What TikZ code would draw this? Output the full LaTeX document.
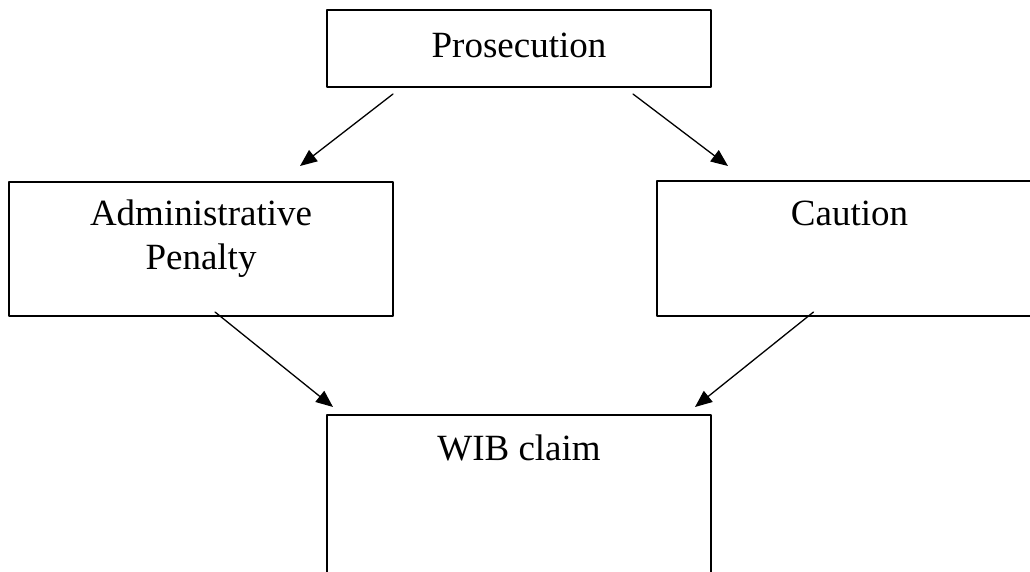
\documentclass[tikz,border=0pt]{standalone}
\usepackage{fontspec}
\setmainfont{Liberation Serif}
\usepackage{tikz}
\usetikzlibrary{arrows.meta, calc, positioning}

\begin{document}
\begin{tikzpicture}[line cap=round, line join=round, >={Triangle[length=17pt,width=14pt]}, x=1pt, y=-1pt,
	box/.style={draw, line width=2pt, inner xsep=0pt, inner ysep=0pt, outer sep=0pt, minimum width=384pt, align=center, anchor=north west, font=\fontsize{37}{44}\selectfont},
	link/.style={->, line width=1.3pt}]

		% page frame
		\clip (0,0) rectangle (1030,571);

		% boxes
		\node [box, text height=47pt, text depth=30pt] (pros) at (327,10) {Prosecution};
		\node [box, text height=87pt, text depth=47pt] (admin) at (9,182) {Administrative\\Penalty};
		\node [box, text height=44pt, text depth=91pt, minimum width=385pt] (caution) at (657,181) {Caution};
		\node [box, text height=45pt, text depth=140pt] (wib) at (327,415) {WIB claim};

		% arrows
		\draw [link] ([xshift=66pt,yshift=-7pt]pros.south west) -- ([xshift=-93pt,yshift=16pt]admin.north east);
		\draw [link] ([xshift=-78pt,yshift=-7pt]pros.south east) -- ([xshift=71pt,yshift=15pt]caution.north west);
		\draw [link] ([xshift=14pt,yshift=4pt]admin.south) -- ([xshift=6pt,yshift=8pt]wib.north west);
		\draw [link] ([xshift=-36pt,yshift=4pt]caution.south) -- ([xshift=-16pt,yshift=8pt]wib.north east);
\end{tikzpicture}
\end{document}
